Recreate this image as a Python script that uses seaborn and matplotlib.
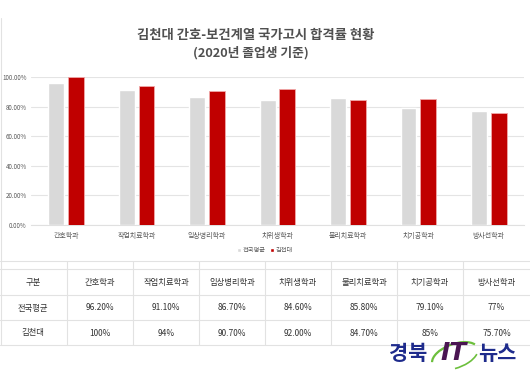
import pandas as pd
import numpy as np
import matplotlib.pyplot as plt
import seaborn as sns
from matplotlib.patches import Arc

# data
majors = ['간호학과', '작업치료학과', '임상병리학과', '치위생학과', '물리치료학과', '치기공학과', '방사선학과']
national = [96.2, 91.1, 86.7, 84.6, 85.8, 79.1, 77.0]
kimcheon = [100.0, 94.0, 90.7, 92.0, 84.7, 85.0, 75.7]
national_txt = ['96.20%', '91.10%', '86.70%', '84.60%', '85.80%', '79.10%', '77%']
kimcheon_txt = ['100%', '94%', '90.70%', '92.00%', '84.70%', '85%', '75.70%']
series = ['전국평균', '김천대']

df = pd.DataFrame({'학과': majors * 2,
                   '구분': [series[0]] * len(majors) + [series[1]] * len(majors),
                   '합격률': national + kimcheon})

sns.set_style('white')
plt.rcParams['font.family'] = ['Noto Sans CJK KR', 'DejaVu Sans']

W, H = 530, 376
fig = plt.figure(figsize=(W / 100, H / 100), dpi=100)
ax = fig.add_axes([31 / W, 1 - 225 / H, 493 / W, 148 / H])

sns.barplot(data=df, x='학과', y='합격률', hue='구분', palette=['#d9d9d9', '#c00000'],
            saturation=1, width=0.56, gap=0.2, ax=ax, zorder=3)
for p in ax.patches[len(majors):2 * len(majors)]:
    p.set_edgecolor('#f0a8a8')
    p.set_linewidth(0.6)

ax.set_ylim(0, 100)
ax.set_yticks(np.arange(0, 101, 20))
ax.set_yticklabels(['{:.2f}%'.format(v) for v in np.arange(0, 101, 20)], fontsize=4.5, color='#595959')
ax.tick_params(axis='x', labelsize=5, colors='#595959', length=0, pad=5)
ax.tick_params(axis='y', length=0, pad=3)
ax.set_xlabel('')
ax.set_ylabel('')
ax.grid(axis='y', color='#e4e4e4', lw=0.8, zorder=0)
for s in ['top', 'right', 'left']:
    ax.spines[s].set_visible(False)
ax.spines['bottom'].set_color('#e0e0e0')
ax.legend(loc='center', bbox_to_anchor=(0.5, 1 - 250 / H), bbox_transform=fig.transFigure,
          ncol=2, frameon=False, fontsize=4.5, handlelength=0.6, handleheight=0.6,
          columnspacing=0.8, handletextpad=0.3, labelcolor='#595959')

# overlay in pixel coordinates for titles, table and logo
ov = fig.add_axes([0, 0, 1, 1], zorder=-1)
ov.set_xlim(0, W)
ov.set_ylim(H, 0)
ov.axis('off')
ov2 = fig.add_axes([0, 0, 1, 1], zorder=5)
ov2.set_xlim(0, W)
ov2.set_ylim(H, 0)
ov2.axis('off')

ov2.text(256, 35, '김천대 간호-보건계열 국가고시 합격률 현황', ha='center', va='center',
         fontsize=9.6, fontweight='bold', color='#505050')
ov2.text(251, 53, '(2020년 졸업생 기준)', ha='center', va='center',
         fontsize=9.2, fontweight='bold', color='#505050')

lc = '#e2e2e2'
ov.plot([1, 1], [18, 345], color=lc, lw=0.8)
for y in [261, 269, 295, 320, 345]:
    ov.plot([0, W], [y, y], color=lc, lw=0.8)
col_edges = [0, 66.5, 133, 199, 265, 331, 397, 463, 530]
for x in col_edges[1:-1]:
    ov.plot([x, x], [261, 345], color=lc, lw=0.8)

rows = [['구분'] + majors, [series[0]] + national_txt, [series[1]] + kimcheon_txt]
for r, yc in zip(rows, [283, 308, 333]):
    for i, t in enumerate(r):
        xc = (col_edges[i] + col_edges[i + 1]) / 2
        ov2.text(xc, yc, t, ha='center', va='center', fontsize=6, color='#333333')

# logo
ov2.text(408, 353, '경북', ha='center', va='center', fontsize=15, fontweight='black', color='#1e2b8c')
ov2.add_patch(Arc((455, 356), 48, 24, angle=-20, theta1=185, theta2=350, color='#6cbf3c', lw=1.6))
ov2.add_patch(Arc((455, 356), 48, 24, angle=-20, theta1=15, theta2=110, color='#6cbf3c', lw=1.2))
ov2.text(454, 353, 'IT', ha='center', va='center', fontsize=18, fontweight='bold',
         style='italic', color='#4a1552', family='DejaVu Sans')
ov2.text(497, 353, '뉴스', ha='center', va='center', fontsize=15, fontweight='black', color='#1e2b8c')

fig.savefig('out.png', dpi=100)
